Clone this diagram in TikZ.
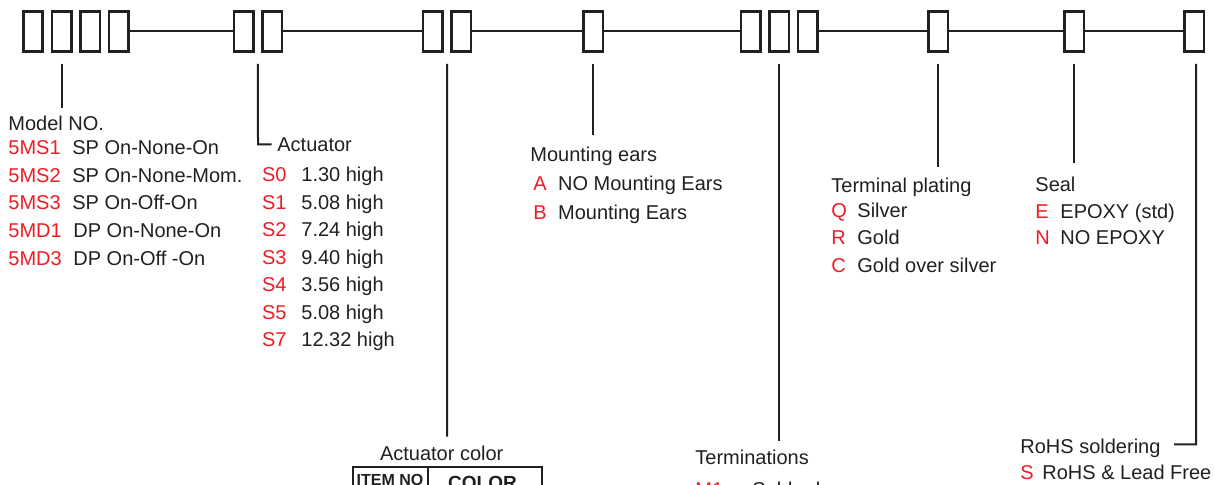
\documentclass[tikz,border=0pt]{standalone}
\usepackage{fontspec}
\setmainfont{Liberation Sans}
\usetikzlibrary{positioning,calc}
\definecolor{ink}{RGB}{35,31,32}
\definecolor{codered}{RGB}{237,28,36}
\tikzstyle{slot} = [
    rectangle,
    draw=ink,
    line width=1.3pt,
    minimum width=9.7pt,
    minimum height=20pt,
    inner sep=0pt
]
\tikzstyle{link} = [
    draw=ink,
    line width=1.15pt
]
\tikzstyle{leader} = [
    draw=ink,
    line width=1pt
]
\tikzstyle{code} = [
    anchor=base west,
    inner sep=0pt,
    text=codered,
    font=\fontsize{10}{12}\selectfont
]
\tikzstyle{desc} = [
    anchor=base west,
    inner sep=0pt,
    text=ink,
    font=\fontsize{10}{12}\selectfont
]
\begin{document}
\begin{tikzpicture}[x=0.5pt,y=-0.5pt]
    \clip (0,0) rectangle (1214,485);
    % part number slots
    \node[slot] (mdl1) at (33,31.3) {};
    \node[slot] (mdl2) at (61.7,31.3) {};
    \node[slot] (mdl3) at (90.3,31.3) {};
    \node[slot] (mdl4) at (118.8,31.3) {};
    \node[slot] (act1) at (243.7,31.3) {};
    \node[slot] (act2) at (272.2,31.3) {};
    \node[slot] (col1) at (432.7,31.3) {};
    \node[slot] (col2) at (461.3,31.3) {};
    \node[slot] (ear) at (593.2,31.3) {};
    \node[slot] (trm1) at (750.8,31.3) {};
    \node[slot] (trm2) at (779.2,31.3) {};
    \node[slot] (trm3) at (807.5,31.3) {};
    \node[slot] (plt) at (938.3,31.3) {};
    \node[slot] (seal) at (1074.2,31.3) {};
    \node[slot] (rohs) at (1194.2,31.3) {};
    \draw[link] (mdl4.east) -- (act1.west);
    \draw[link] (act2.east) -- (col1.west);
    \draw[link] (col2.east) -- (ear.west);
    \draw[link] (ear.east) -- (trm1.west);
    \draw[link] (trm3.east) -- (plt.west);
    \draw[link] (plt.east) -- (seal.west);
    \draw[link] (seal.east) -- (rohs.west);

    % leader ends
    \coordinate (mdlEnd) at (61.7,108);
    \coordinate (actBend) at (258,144.3);
    \coordinate (actEnd) at (271.7,144.3);
    \coordinate (colEnd) at (447,436.7);
    \coordinate (earEnd) at (593.2,135);
    \coordinate (trmEnd) at (779.2,441);
    \coordinate (pltEnd) at (938.3,166.7);
    \coordinate (sealEnd) at (1074.2,163);
    \coordinate (rohsBend) at (1196,444.3);
    \coordinate (rohsEnd) at (1174,444.3);
    \draw[leader] ([yshift=-5.7pt]mdl2.south) -- (mdlEnd);
    \draw[leader] ([yshift=-5.7pt]$(act1.south)!0.5!(act2.south)$) -- (actBend) -- (actEnd);
    \draw[leader] ([yshift=-5.7pt]$(col1.south)!0.5!(col2.south)$) -- (colEnd);
    \draw[leader] ([yshift=-5.7pt]ear.south) -- (earEnd);
    \draw[leader] ([yshift=-5.7pt]trm2.south) -- (trmEnd);
    \draw[leader] ([yshift=-5.7pt]plt.south) -- (pltEnd);
    \draw[leader] ([yshift=-5.7pt]seal.south) -- (sealEnd);
    \draw[leader] ([xshift=0.9pt,yshift=-5.7pt]rohs.south) -- (rohsBend) -- (rohsEnd);

    % model number
    \node[desc] (mdlHead) at (8,130.7) {Model NO.};
    \node[code] (ms1) at (8,154.3) {5MS1};
    \node[desc] (ms1d) at (72,154.3) {SP On-None-On};
    \node[code] (ms2) at (8,182.1) {5MS2};
    \node[desc] (ms2d) at (72,182.1) {SP On-None-Mom.};
    \node[code] (ms3) at (8,209.9) {5MS3};
    \node[desc] (ms3d) at (72,209.9) {SP On-Off-On};
    \node[code] (md1) at (8,237.7) {5MD1};
    \node[desc] (md1d) at (73,237.7) {DP On-None-On};
    \node[code] (md3) at (8,265.5) {5MD3};
    \node[desc] (md3d) at (73,265.5) {DP On-Off -On};

    % actuator
    \node[desc] (actHead) at (277,151.7) {Actuator};
    \node[code] (s0) at (261.7,181.7) {S0};
    \node[desc] (s0d) at (301,181.7) {1.30 high};
    \node[code] (s1) at (261.7,209.2) {S1};
    \node[desc] (s1d) at (301,209.2) {5.08 high};
    \node[code] (s2) at (261.7,236.7) {S2};
    \node[desc] (s2d) at (301,236.7) {7.24 high};
    \node[code] (s3) at (261.7,264.2) {S3};
    \node[desc] (s3d) at (301,264.2) {9.40 high};
    \node[code] (s4) at (261.7,291.7) {S4};
    \node[desc] (s4d) at (301,291.7) {3.56 high};
    \node[code] (s5) at (261.7,319.2) {S5};
    \node[desc] (s5d) at (301,319.2) {5.08 high};
    \node[code] (s7) at (261.7,346.7) {S7};
    \node[desc] (s7d) at (301,346.7) {12.32 high};

    % actuator color
    \node[desc,anchor=base] (colHead) at (441.7,460) {Actuator color};
    \draw[draw=ink,line width=1pt] (353.3,467.3) rectangle (541.7,530);
    \draw[draw=ink,line width=1pt] (428.3,467.3) -- (428.3,530);
    \node[desc,anchor=base,font=\bfseries\fontsize{8}{9.6}\selectfont] (itemNo) at (390,486) {ITEM NO};
    \node[desc,anchor=base,font=\bfseries\fontsize{9.5}{11}\selectfont] (colorHd) at (482.5,489) {COLOR};

    % mounting ears
    \node[desc] (earHead) at (530,161.7) {Mounting ears};
    \node[code] (ea) at (533,191) {A};
    \node[desc] (ead) at (557.7,191) {NO Mounting Ears};
    \node[code] (eb) at (533,219.3) {B};
    \node[desc] (ebd) at (557.7,219.3) {Mounting Ears};

    % terminations
    \node[desc] (trmHead) at (695,465) {Terminations};
    \node[code] (tm1) at (695,496) {M1};
    \node[desc] (tm1d) at (752,496) {Solder lug};

    % terminal plating
    \node[desc] (pltHead) at (831,192.7) {Terminal plating};
    \node[code] (pq) at (831,217.7) {Q};
    \node[desc] (pqd) at (857,217.7) {Silver};
    \node[code] (pr) at (831,245) {R};
    \node[desc] (prd) at (857,245) {Gold};
    \node[code] (pc) at (831,272.3) {C};
    \node[desc] (pcd) at (857,272.3) {Gold over silver};

    % seal
    \node[desc] (sealHead) at (1035,191.7) {Seal};
    \node[code] (se) at (1035,218.3) {E};
    \node[desc] (sed) at (1060,218.3) {EPOXY (std)};
    \node[code] (sn) at (1035,245) {N};
    \node[desc] (snd) at (1060,245) {NO EPOXY};

    % rohs
    \node[desc] (rohsHead) at (1020,453) {RoHS soldering};
    \node[code] (rs) at (1020,479.5) {S};
    \node[desc] (rsd) at (1042,479.5) {RoHS \& Lead Free};
\end{tikzpicture}
\end{document}
